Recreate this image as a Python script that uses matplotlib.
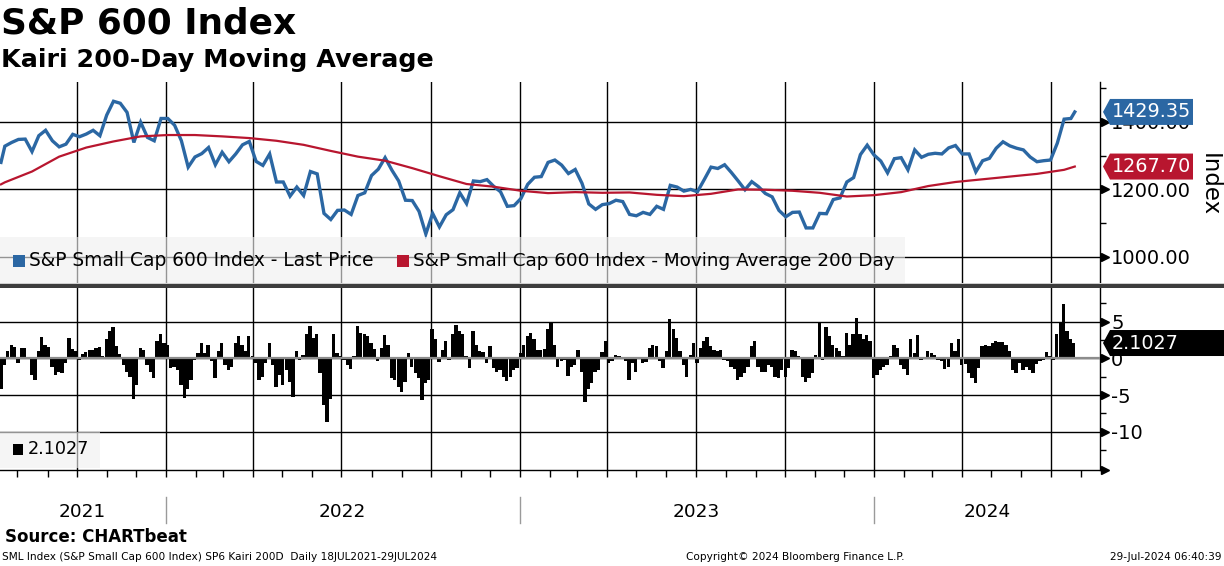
import matplotlib
matplotlib.use("Agg")
import matplotlib.pyplot as plt
import matplotlib.dates as mdates
import matplotlib.transforms as mtrans
from matplotlib.patches import Rectangle, Polygon
from matplotlib.ticker import FixedLocator, FixedFormatter
import pandas as pd

plt.rcParams['font.family'] = ['DejaVu Sans']

# ---------------- data ----------------
price_first = 1280
price_weekly = [
    1328, 1339, 1348, 1349, 1312, 1359, 1375, 1344, 1326, 1334,
    1363, 1356, 1364, 1375, 1359, 1420, 1461, 1455, 1428, 1339,
    1399, 1354, 1344, 1410, 1410, 1390, 1344, 1266, 1296, 1306,
    1324, 1273, 1310, 1282, 1305, 1332, 1342, 1283, 1271, 1305,
    1222, 1222, 1180, 1207, 1182, 1253, 1246, 1129, 1111, 1138,
    1139, 1126, 1182, 1190, 1241, 1260, 1294, 1257, 1225, 1168,
    1167, 1135, 1068, 1129, 1089, 1125, 1140, 1190, 1158, 1225,
    1223, 1229, 1209, 1193, 1150, 1152, 1173, 1215, 1236, 1238,
    1280, 1287, 1272, 1247, 1259, 1218, 1157, 1141, 1155, 1158,
    1168, 1164, 1126, 1122, 1132, 1126, 1150, 1141, 1212, 1207,
    1195, 1200, 1193, 1229, 1266, 1262, 1273, 1250, 1225, 1199,
    1223, 1208, 1188, 1178, 1138, 1119, 1132, 1133, 1086, 1086,
    1129, 1128, 1170, 1175, 1222, 1235, 1303, 1331, 1302, 1284,
    1249, 1291, 1294, 1258, 1317, 1295, 1304, 1307, 1305, 1323,
    1330, 1305, 1305, 1252, 1285, 1292, 1322, 1341, 1329, 1322,
    1317, 1296, 1282, 1285, 1287, 1337, 1408, 1410,
]
price_last = 1429.35

ma_first = 1215
ma_4weekly = [
    1221, 1253, 1297, 1324, 1342, 1357, 1361, 1361, 1357, 1352,
    1344, 1332, 1314, 1297, 1285, 1263, 1239, 1216, 1208, 1196,
    1189, 1192, 1190, 1191, 1184, 1180, 1187, 1200, 1199, 1196,
    1190, 1179, 1183, 1192, 1210, 1222, 1230, 1238, 1246, 1258,
]
ma_last = 1267.70

kairi_values = [
    -4.2, -0.9, 1.0, 1.9, 1.5, -0.6, 1.4, 1.4, 0.0, -2.3,
    -3.0, 1.0, 2.9, 1.8, 1.5, -1.1, -2.2, -1.9, -2.0, -0.6,
    2.8, 1.3, 1.0, -0.2, 0.6, 0.9, 1.1, 1.2, 1.4, 1.6,
    0.3, 2.6, 3.7, 4.3, 1.7, 0.6, -0.9, -1.9, -2.5, -5.5,
    -3.6, 1.4, 1.2, -0.9, -1.8, -2.7, 2.4, 3.3, 2.1, 1.9,
    -1.3, -1.1, -1.6, -3.6, -5.4, -4.1, -2.9, -0.2, 0.7, 2.1,
    0.7, 1.9, -0.4, -2.7, 1.0, 2.1, -0.9, -1.6, -1.1, 2.1,
    3.0, 1.9, 1.0, 3.0, 0.3, -0.6, -2.9, -2.5, -0.6, 2.1,
    -0.9, -3.9, -2.3, -3.6, -1.6, -3.2, -5.2, 1.0, -0.2, 0.5,
    3.3, 4.4, 2.8, 3.3, -2.0, -6.4, -8.7, -5.5, 3.3, 0.7,
    0.3, -0.2, -0.9, -1.4, 0.3, 4.4, 3.5, 3.3, 3.0,
    2.1, 1.3, -0.4, 1.4, 3.2, 1.9, -2.6, -2.9, -3.9, -4.6,
    -3.2, 0.7, -1.1, -2.0, -2.7, -5.6, -3.4, -2.9, 4.0, 2.6,
    -0.5, 1.2, 2.4, -0.2, 3.3, 4.6, 3.7, 3.3, 0.3, -1.3,
    3.7, 1.9, 1.0, 0.9, -0.6, 1.7, -1.3, -1.8, -1.6, -2.5,
    -3.1, -2.5, -1.6, -1.3, 0.7, 1.9, 3.0, 3.5, 2.6, 1.2,
    1.1, 1.3, 4.0, 5.0, 1.9, -1.1, -0.4, -0.2, -2.4, -1.2,
    -0.9, 1.2, -1.8, -6.0, -4.1, -3.4, -1.8, -1.6, 0.9, 2.4,
    -0.6, -0.4, 0.5, 0.4, 0.1, -0.4, -2.9, -0.6, -1.8, 0.1,
    -0.6, -0.5, 1.4, 1.8, 1.7, -0.4, -1.3, 1.0, 5.4, 4.0,
    2.8, 1.0, -0.9, -2.5, 0.5, 2.1, -0.6, 1.4, 2.4, 2.9,
    1.7, 1.2, 1.0, 1.1, -0.2, -0.3, -1.1,
    -1.4, -2.9, -2.5, -2.0, -1.1, 1.7, 2.4, -1.1, -1.9, -1.9,
    -0.9, -1.1, -2.5, -2.7, -1.6, -2.5, -1.3, 1.1, 1.0, 0.3,
    -2.5, -3.2, -2.6, -2.0, 0.5, 5.0, -0.2, 4.3, 3.0, 1.9,
    1.4, 1.0, 0.3, 3.5, 1.9, 3.3, 5.5, 3.3, 2.6, 3.2,
    2.4, -2.7, -2.3, -1.6, -1.1, -0.9, 0.3, 1.9, 1.4, -0.9,
    -1.4, -2.2, 2.6, 0.7, 3.2, -0.2, 0.1, 1.0, 0.7, 0.5,
    -0.2, -0.4, -1.4, -1.1, 2.1, 1.0, 2.6, -0.9, -0.8, -2.0,
    -2.7, -3.3, -1.3, 1.7, 1.8, 1.7, 2.1, 2.4, 2.3, 2.3,
    1.9, 1.0, -1.6, -2.0, -0.6, -1.6, -1.1, -1.6, -2.0, -0.8,
    -0.4, -0.2, 0.9, 0.4, -0.2, 3.3, 5.0, 7.4, 3.7, 2.6,
    2.1027,
]

price_dates = (pd.DatetimeIndex(["2021-07-15"])
               .append(pd.date_range("2021-07-19", periods=len(price_weekly), freq="7D"))
               .append(pd.DatetimeIndex(["2024-07-26"])))
price_values = [price_first] + price_weekly + [price_last]

ma_dates = (pd.DatetimeIndex(["2021-07-15"])
            .append(pd.date_range("2021-07-19", periods=len(ma_4weekly), freq="28D"))
            .append(pd.DatetimeIndex(["2024-07-26"])))
ma_values = [ma_first] + ma_4weekly + [ma_last]

kairi_dates = pd.date_range("2021-07-15", periods=len(kairi_values), freq="84h")

price_ticks = [1000, 1200, 1400]
price_minor = [1100, 1300, 1500]
kairi_ticks = [-10, -5, 0, 5]
kairi_tick_labels = ["-10", "-5", "0", "5"]
kairi_minor = [-12.5, -7.5, -2.5, 2.5, 7.5]
years = ["2021", "2022", "2023", "2024"]
year_centers = ["2021-10-07", "2022-07-02", "2023-07-02", "2024-04-27"]
year_bounds = ["2022-01-01", "2023-01-01", "2024-01-01"]

# ---------------- figure ----------------
W, H = 1224, 566
BLUE = "#2b67a3"
RED = "#b8162f"

fig = plt.figure(figsize=(W / 100, H / 100), dpi=100)


def fx(px):
    return px / W


def fy(py):
    return 1 - py / H


ax1 = fig.add_axes([0, fy(284), fx(1100), (284 - 82) / H])
ax2 = fig.add_axes([0, fy(470), fx(1100), (470 - 288) / H], sharex=ax1)

ax1.set_xlim(pd.Timestamp("2021-07-14"), pd.Timestamp("2024-08-21"))
ax1.set_ylim(920, 1518)
ax2.set_ylim(-15.2, 9.6)

for ax in (ax1, ax2):
    ax.xaxis.set_major_locator(mdates.MonthLocator(bymonth=[1, 4, 7, 10]))
    ax.xaxis.set_minor_locator(mdates.MonthLocator())
    ax.grid(True, which="major", axis="both", color="black", lw=1.0)
    ax.set_axisbelow(True)
    for s in ("top", "left"):
        ax.spines[s].set_visible(False)
    ax.spines["right"].set_color("black")
    ax.spines["right"].set_linewidth(1.0)
    ax.yaxis.tick_right()
    ax.tick_params(axis="y", which="major", length=0, pad=8, labelsize=14)
    ax.tick_params(axis="y", which="minor", length=4, width=1, direction="out")

ax1.spines["bottom"].set_visible(False)
ax1.tick_params(axis="x", which="both", length=0, labelbottom=False)
ax2.tick_params(axis="x", which="both", length=5, width=1, direction="out",
                labelbottom=False)
ax2.spines["bottom"].set_linewidth(1.0)

ax1.yaxis.set_major_locator(FixedLocator(price_ticks))
ax1.yaxis.set_major_formatter(FixedFormatter([f"{v:.2f}" for v in price_ticks]))
ax1.yaxis.set_minor_locator(FixedLocator(price_minor))
ax2.yaxis.set_major_locator(FixedLocator(kairi_ticks))
ax2.yaxis.set_major_formatter(FixedFormatter(kairi_tick_labels))
ax2.yaxis.set_minor_locator(FixedLocator(kairi_minor))

# series
ax1.plot(price_dates, price_values, color=BLUE, lw=2.4, zorder=3,
         solid_joinstyle="miter")
ax1.plot(ma_dates, ma_values, color=RED, lw=1.6, zorder=4)

ax2.bar(kairi_dates, kairi_values, width=3.4, color="black", linewidth=0,
        zorder=2)
ax2.axhline(0, color="#8c8c8c", lw=1.6, zorder=3)

# triangle tick markers on the right axes
for ax, ticks in ((ax1, price_ticks), (ax2, kairi_ticks)):
    tr = mtrans.blended_transform_factory(ax.transAxes, ax.transData)
    ax.plot([1 + 4.5 / 1100] * len(ticks), ticks, ls="none", marker=">",
            ms=6, color="black", transform=tr, clip_on=False, zorder=6)
# x-axis arrow
ax2.plot([1 + 4.5 / 1100], [0], ls="none", marker=">", ms=6, color="black",
         transform=ax2.transAxes, clip_on=False, zorder=6)

# separator bar between panels
fig.add_artist(Rectangle((0, fy(288)), 1, 4 / H, transform=fig.transFigure,
                         facecolor="#3d3d3d", edgecolor="none", zorder=5))
fig.add_artist(Rectangle((0, fy(284)), 1, 1 / H, transform=fig.transFigure,
                         facecolor="#cfcfcf", edgecolor="none", zorder=5))

# legends
fig.add_artist(Rectangle((0, fy(283)), fx(905), 46 / H, transform=fig.transFigure,
                         facecolor="#f0f0f0", alpha=0.62, edgecolor="none", zorder=5))
fig.add_artist(Rectangle((fx(13), fy(267)), fx(12), 12 / H, transform=fig.transFigure,
                         facecolor=BLUE, edgecolor="none", zorder=6))
fig.text(fx(29), fy(261), "S&P Small Cap 600 Index - Last Price", fontsize=13.4,
         va="center", ha="left", zorder=6)
fig.add_artist(Rectangle((fx(397), fy(267)), fx(12), 12 / H, transform=fig.transFigure,
                         facecolor=RED, edgecolor="none", zorder=6))
fig.text(fx(413), fy(261), "S&P Small Cap 600 Index - Moving Average 200 Day",
         fontsize=13.2, va="center", ha="left", zorder=6)

fig.add_artist(Rectangle((0, fy(468)), fx(100), 36 / H, transform=fig.transFigure,
                         facecolor="#f0f0f0", alpha=0.62, edgecolor="none", zorder=5))
fig.add_artist(Rectangle((fx(13), fy(455)), fx(10), 11 / H, transform=fig.transFigure,
                         facecolor="black", edgecolor="none", zorder=6))
fig.text(fx(28), fy(449.5), f"{kairi_values[-1]:.4f}", fontsize=12.7,
         va="center", ha="left", zorder=6)


# value tags
def tag(ax, value, color, x_end, text):
    yd = ax.transData.transform((0, value))[1] / H
    hh = 13 / H
    pts = [(fx(1103), yd), (fx(1110), yd + hh), (fx(x_end), yd + hh),
           (fx(x_end), yd - hh), (fx(1110), yd - hh)]
    fig.add_artist(Polygon(pts, closed=True, transform=fig.transFigure,
                           facecolor=color, edgecolor="none", zorder=7))
    fig.text(fx(1112), yd, text, color="white", fontsize=13.8, ha="left",
             va="center", zorder=8)


tag(ax1, price_last, BLUE, 1193, f"{price_last:.2f}")
tag(ax1, ma_last, RED, 1193, f"{ma_last:.2f}")
tag(ax2, kairi_values[-1], "black", 1224, f"{kairi_values[-1]:.4f}")

fig.text(fx(1209), fy(185), "Index", rotation=270, fontsize=16.5, ha="center",
         va="center")

# year labels and separators
trx = mtrans.blended_transform_factory(ax2.transData, fig.transFigure)
for lab, c in zip(years, year_centers):
    ax2.text(pd.Timestamp(c), fy(512), lab, transform=trx, ha="center",
             va="center", fontsize=13.3, clip_on=False)
for b in year_bounds:
    d = pd.Timestamp(b)
    ax2.plot([d, d], [fy(497), fy(523)], transform=trx, color="#9a9a9a", lw=1,
             clip_on=False)

# titles and footer
fig.text(fx(1), fy(23), "S&P 600 Index", fontsize=25.8, fontweight="bold",
         ha="left", va="center")
fig.text(fx(1), fy(60), "Kairi 200-Day Moving Average", fontsize=18.3,
         fontweight="bold", ha="left", va="center")
fig.text(fx(5), fy(537), "Source: CHARTbeat", fontsize=12, fontweight="bold",
         ha="left", va="center")
fig.text(fx(2), fy(557),
         "SML Index (S&P Small Cap 600 Index) SP6 Kairi 200D  Daily 18JUL2021-29JUL2024",
         fontsize=7.6, ha="left", va="center")
fig.text(fx(795), fy(557), "Copyright\u00a9 2024 Bloomberg Finance L.P.",
         fontsize=7.6, ha="center", va="center")
fig.text(fx(1222), fy(557), "29-Jul-2024 06:40:39", fontsize=7.6, ha="right",
         va="center")

fig.savefig("out.png", dpi=100)
